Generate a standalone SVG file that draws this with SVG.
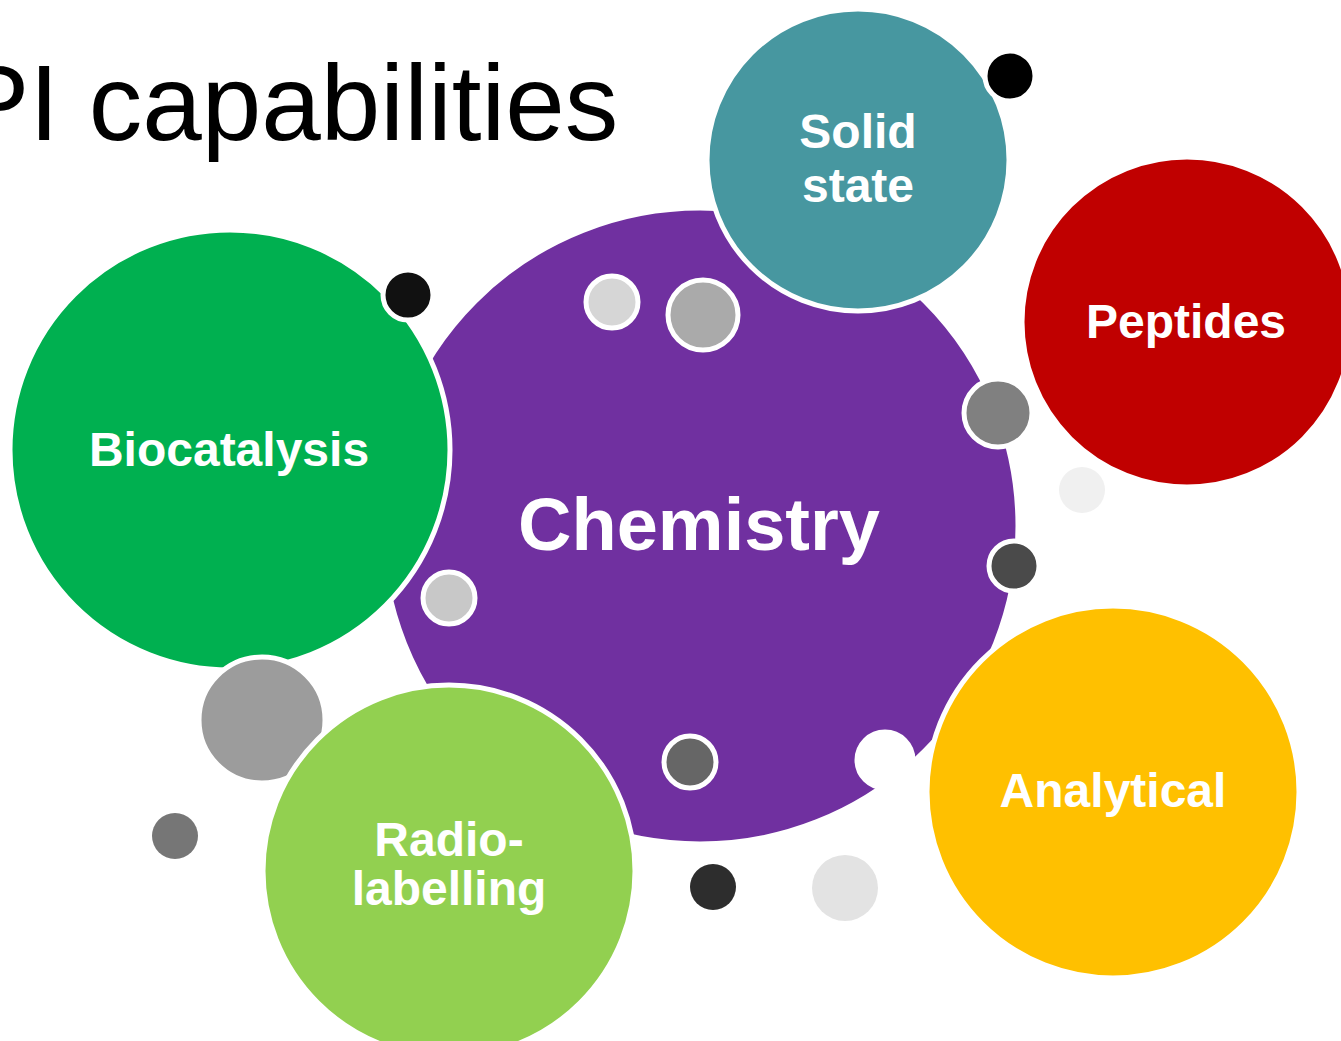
<svg xmlns="http://www.w3.org/2000/svg" width="1341" height="1041" viewBox="0 0 1341 1041">
<style>
.big{stroke:#fff;stroke-width:5}
.dot{stroke:#fff;stroke-width:5}
.lbl{font-family:"Liberation Sans",Arial,sans-serif;font-weight:bold;fill:#fff;text-anchor:middle;font-size:48px}
</style>
<rect width="1341" height="1041" fill="#fff"/>
<text x="-42" y="140" font-family="Liberation Sans, Arial, sans-serif" font-size="107" fill="#000">PI capabilities</text>
<g id="chemistry">
<circle class="big" cx="700" cy="526" r="318" fill="#7030A0"/>
<text class="lbl" x="699" y="550" style="font-size:74px">Chemistry</text>
</g>
<g id="biocatalysis">
<circle class="big" cx="230" cy="450" r="220" fill="#00B050"/>
<text class="lbl" x="229" y="466">Biocatalysis</text>
</g>
<g id="solid-state">
<circle class="big" cx="858" cy="160" r="151" fill="#4797A0"/>
<text class="lbl" x="858" y="148">Solid</text>
<text class="lbl" x="858" y="202">state</text>
</g>
<g id="peptides">
<circle class="big" cx="1187" cy="322" r="165" fill="#C00000"/>
<text class="lbl" x="1186" y="338">Peptides</text>
</g>
<g id="analytical">
<circle class="big" cx="1113" cy="792" r="186" fill="#FFC000"/>
<text class="lbl" x="1113" y="807">Analytical</text>
</g>
<g id="dot-gray-big">
<circle class="dot" cx="262" cy="720" r="63" fill="#9C9C9C"/>
</g>
<g id="radiolabelling">
<circle class="big" cx="449" cy="871" r="186" fill="#92D050"/>
<text class="lbl" x="449" y="856">Radio-</text>
<text class="lbl" x="449" y="905">labelling</text>
</g>
<g id="dots">
<circle class="dot" cx="408" cy="295" r="25" fill="#111111"/>
<circle class="dot" cx="1010" cy="76" r="25" fill="#000000"/>
<circle class="dot" cx="612" cy="302" r="26" fill="#D6D6D6"/>
<circle class="dot" cx="703" cy="315" r="35" fill="#AAAAAA"/>
<circle class="dot" cx="998" cy="413" r="34" fill="#808080"/>
<circle cx="1082" cy="490" r="23" fill="#F0F0F0"/>
<circle class="dot" cx="1014" cy="566" r="25" fill="#4A4A4A"/>
<circle class="dot" cx="449" cy="598" r="26" fill="#C8C8C8"/>
<circle class="dot" cx="690" cy="762" r="26" fill="#666666"/>
<circle class="dot" cx="885" cy="760" r="28" fill="#FFFFFF"/>
<circle cx="713" cy="887" r="23" fill="#2D2D2D"/>
<circle cx="845" cy="888" r="33" fill="#E3E3E3"/>
<circle cx="175" cy="836" r="23" fill="#767676"/>
</g>
<g id="connectors"></g>
</svg>
